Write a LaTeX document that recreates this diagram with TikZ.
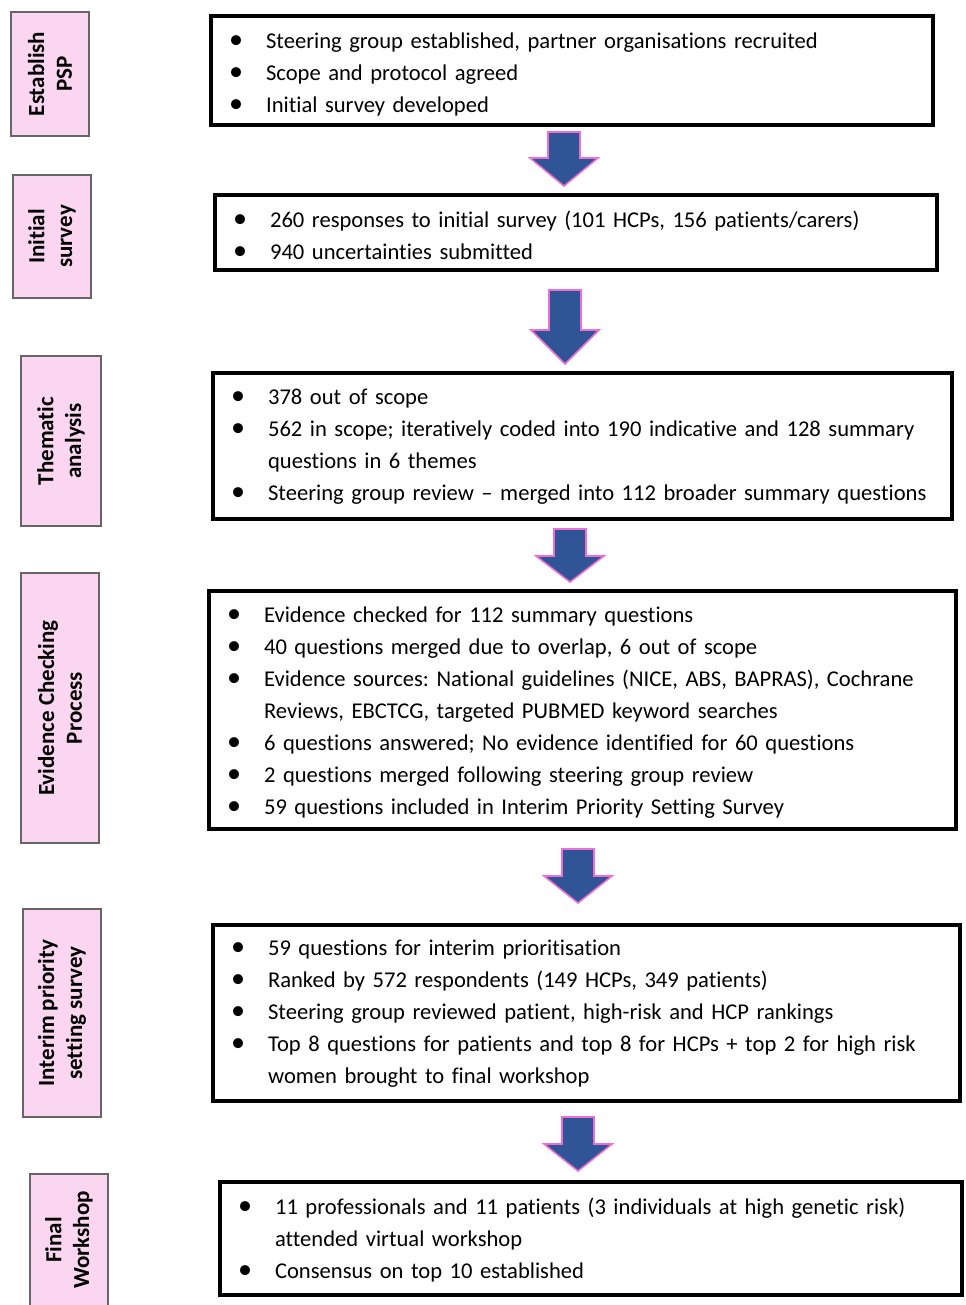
\documentclass[tikz,border=0pt]{standalone}
\usepackage{fontspec}
\setmainfont{Carlito}[Ligatures=NoCommon]
\definecolor{stagepink}{RGB}{251,214,241}
\definecolor{arrowblue}{RGB}{47,85,151}
\definecolor{arrowpink}{RGB}{238,110,214}
\newcommand{\bul}{{\fontsize{16}{18}\selectfont\textbullet}}
\frenchspacing

\begin{document}
\begin{tikzpicture}[x=0.02cm, y=-0.02cm,
		stage/.style = {shape=rectangle, draw=black!60, line width=0.7pt,
			fill=stagepink, rotate=90, align=center, inner sep=0pt,
			font=\bfseries\fontsize{13.1}{15.9}\selectfont},
		summary/.style = {shape=rectangle, draw, line width=2.2pt,
			align=left, inner xsep=0.36cm, inner ysep=0pt,
			font=\fontsize{12.85}{18.2}\selectfont},
		flow/.style = {fill=arrowblue, draw=arrowpink, line width=0.9pt}]

	\useasboundingbox (0,0) rectangle (966,1305);

	% stages on the left
	\node[stage, minimum width=2.48cm, minimum height=1.56cm] (establish) at (50,74) {Establish\\PSP};
	\node[stage, minimum width=2.46cm, minimum height=1.56cm] (initial) at (52,236.5) {Initial\\survey};
	\node[stage, minimum width=3.4cm, minimum height=1.6cm] (thematic) at (61,441) {Thematic\\analysis};
	\node[stage, minimum width=5.4cm, minimum height=1.56cm] (evidence) at (60,708) {Evidence Checking\\Process};
	\node[stage, minimum width=4.16cm, minimum height=1.56cm] (interim) at (62,1013) {Interim priority\\setting survey};
	\node[stage, minimum width=2.64cm, minimum height=1.56cm] (final) at (69,1240) {Final\\Workshop};

	% summaries on the right
	\node[summary, minimum width=14.44cm, minimum height=2.18cm, text width=13.72cm] (psp) at (572,70.5) {%
		\raisebox{-0.08cm}[\height][\depth]{\begin{tabular}{@{}p{0.74cm}@{}l@{}}
			\bul & Steering group established, partner organisations recruited\\
			\bul & Scope and protocol agreed\\
			\bul & Initial survey developed
		\end{tabular}}};
	\node[summary, minimum width=14.44cm, minimum height=1.5cm, text width=13.72cm] (survey) at (576,232.5) {%
		\raisebox{-0.09cm}[\height][\depth]{\begin{tabular}{@{}p{0.74cm}@{}l@{}}
			\bul & 260 responses to initial survey (101 HCPs, 156 patients/carers)\\
			\bul & 940 uncertainties submitted
		\end{tabular}}};
	\node[summary, minimum width=14.78cm, minimum height=2.92cm, text width=14.06cm] (themes) at (582.5,446) {%
		\begin{tabular}{@{}p{0.74cm}@{}l@{}}
			\bul & 378 out of scope\\
			\bul & 562 in scope; iteratively coded into 190 indicative and 128 summary\\
			& questions in 6 themes\\
			\bul & Steering group review – merged into 112 broader summary questions
		\end{tabular}};
	\node[summary, minimum width=14.94cm, minimum height=4.76cm, text width=14.22cm] (checking) at (582.5,710) {%
		\raisebox{-0.04cm}[\height][\depth]{\begin{tabular}{@{}p{0.74cm}@{}l@{}}
			\bul & Evidence checked for 112 summary questions\\
			\bul & 40 questions merged due to overlap, 6 out of scope\\
			\bul & Evidence sources: National guidelines (NICE, ABS, BAPRAS), Cochrane\\
			& Reviews, EBCTCG, targeted PUBMED keyword searches\\
			\bul & 6 questions answered; No evidence identified for 60 questions\\
			\bul & 2 questions merged following steering group review\\
			\bul & 59 questions included in Interim Priority Setting Survey
		\end{tabular}}};
	\node[summary, minimum width=14.94cm, minimum height=3.52cm, text width=14.22cm] (ranking) at (586.5,1013) {%
		\begin{tabular}{@{}p{0.74cm}@{}l@{}}
			\bul & 59 questions for interim prioritisation\\
			\bul & Ranked by 572 respondents (149 HCPs, 349 patients)\\
			\bul & Steering group reviewed patient, high-risk and HCP rankings\\
			\bul & Top 8 questions for patients and top 8 for HCPs + top 2 for high risk\\
			& women brought to final workshop
		\end{tabular}};
	\node[summary, minimum width=14.84cm, minimum height=2.26cm, text width=14.12cm] (workshop) at (591,1238.5) {%
		\raisebox{-0.03cm}[\height][\depth]{\begin{tabular}{@{}p{0.74cm}@{}l@{}}
			\bul & 11 professionals and 11 patients (3 individuals at high genetic risk)\\
			& attended virtual workshop\\
			\bul & Consensus on top 10 established
		\end{tabular}}};

	% block arrows between the summaries
	\foreach \cx/\top/\head/\tip in {564/132/158/186, 565/290/330/364, 570/529/556/582,
			578/849/876/903, 578/1117/1144/1171}
		\draw[flow] (\cx-16,\top) -- (\cx+16,\top) -- (\cx+16,\head) -- (\cx+34,\head)
			-- (\cx,\tip) -- (\cx-34,\head) -- (\cx-16,\head) -- cycle;
\end{tikzpicture}
\end{document}
